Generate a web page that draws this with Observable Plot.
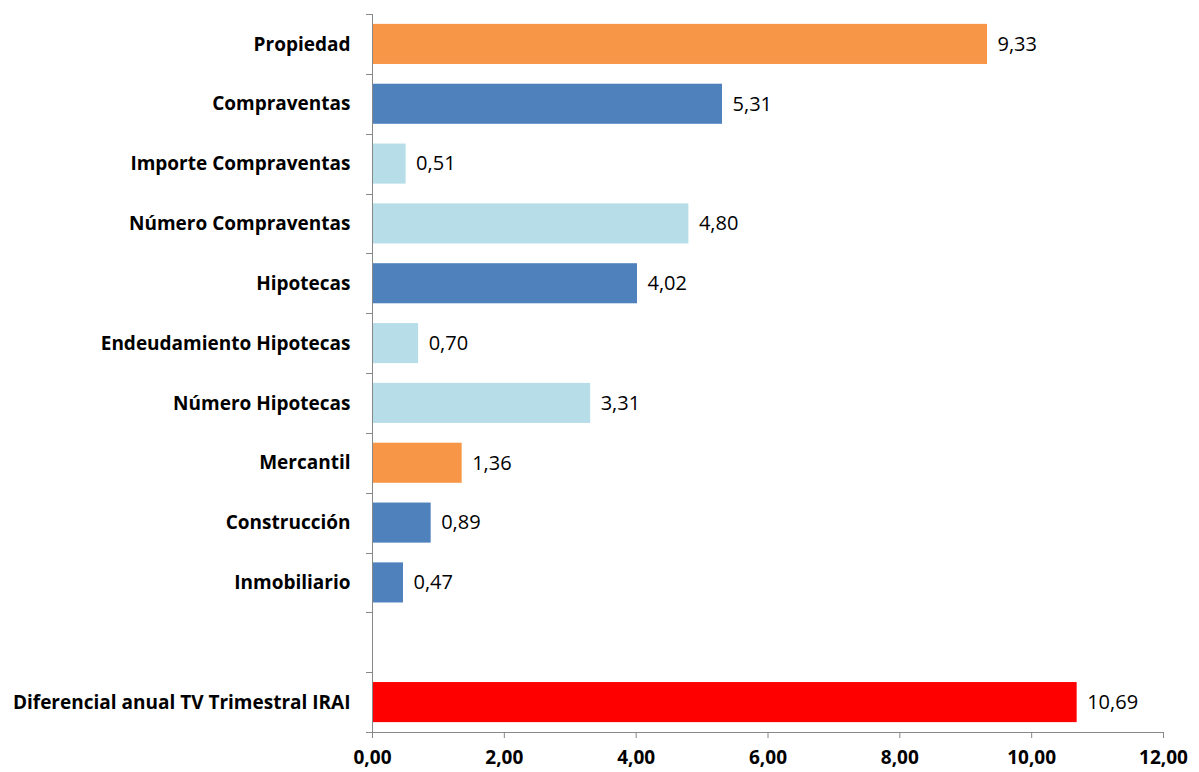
<!DOCTYPE html>
<html>
<head>
<meta charset="utf-8">
<script src="https://cdn.jsdelivr.net/npm/d3@7"></script>
<script src="https://cdn.jsdelivr.net/npm/@observablehq/plot@0.6"></script>
<style>
  html, body { margin: 0; padding: 0; background: #fff; }
  #chart svg { display: block; }
</style>
</head>
<body>
<div id="chart"></div>
<script>
// Data
const categories = [
  "Propiedad",
  "Compraventas",
  "Importe Compraventas",
  "Número Compraventas",
  "Hipotecas",
  "Endeudamiento Hipotecas",
  "Número Hipotecas",
  "Mercantil",
  "Construcción",
  "Inmobiliario",
  " ",
  "Diferencial anual TV Trimestral IRAI"
];
const values = [9.33, 5.31, 0.51, 4.80, 4.02, 0.70, 3.31, 1.36, 0.89, 0.47, null, 10.69];
const groups = ["registro", "sector", "indicador", "indicador", "sector", "indicador", "indicador", "registro", "sector", "sector", null, "total"];
const groupDomain = ["registro", "sector", "indicador", "total"];
const groupColors = ["#F79646", "#4F81BD", "#B7DEE8", "#FF0000"];
const xTicks = [0, 2, 4, 6, 8, 10, 12];

const data = categories.map((c, i) => ({category: c, value: values[i], group: groups[i]}))
  .filter(d => d.value != null);

const comma = v => d3.format(".2f")(v).replace(".", ",");
const axisColor = "#888888";

// Custom mark: tick marks at band boundaries and axis lines
function bandFrame(index, scales, values, dims) {
  const y = scales.y;
  const step = y.step();
  const bw = y.bandwidth();
  const off = (step - bw) / 2;
  const dom = y.domain();
  const ys = dom.map(d => y(d) - off);
  ys.push(y(dom[dom.length - 1]) + bw + off);
  const g = d3.create("svg:g").attr("stroke", axisColor).attr("stroke-width", 1).attr("fill", "none");
  const x0 = dims.marginLeft;
  g.selectAll("line.t").data(ys).join("line")
    .attr("x1", x0 - 6).attr("x2", x0 + 0.5)
    .attr("y1", d => Math.round(d) + 0.5).attr("y2", d => Math.round(d) + 0.5);
  const yb = Math.round(dims.height - dims.marginBottom) + 0.5;
  g.append("line")
    .attr("x1", x0).attr("x2", dims.width - dims.marginRight)
    .attr("y1", yb).attr("y2", yb);
  g.append("line")
    .attr("x1", x0 + 0.5).attr("x2", x0 + 0.5)
    .attr("y1", dims.marginTop).attr("y2", yb);
  return g.node();
}

const plot = Plot.plot({
  width: 1199,
  height: 772,
  marginLeft: 372,
  marginRight: 36,
  marginTop: 14,
  marginBottom: 40,
  style: {fontFamily: "'Open Sans', Lato, sans-serif", background: "#fff"},
  x: {domain: [0, 12], ticks: xTicks, tickFormat: comma},
  y: {domain: categories, paddingInner: 0.33, paddingOuter: 0.165, round: false},
  color: {domain: groupDomain, range: groupColors},
  marks: [
    Plot.barX(data, {x: "value", y: "category", fill: "group"}),
    Plot.text(data, {
      x: "value", y: "category", text: d => comma(d.value),
      dx: 10, textAnchor: "start", fontSize: 20, fill: "#000"
    }),
    Plot.axisY({
      tickSize: 0, tickPadding: 22, fontSize: 19, fontWeight: "bold", fill: "#000",
      label: null
    }),
    Plot.axisX({
      ticks: xTicks, tickFormat: comma, tickSize: 6, tickPadding: 12,
      fontSize: 19, fontWeight: "bold", fill: "#000", stroke: axisColor, label: null
    }),
    bandFrame
  ]
});

document.getElementById("chart").appendChild(plot);
</script>
</body>
</html>
